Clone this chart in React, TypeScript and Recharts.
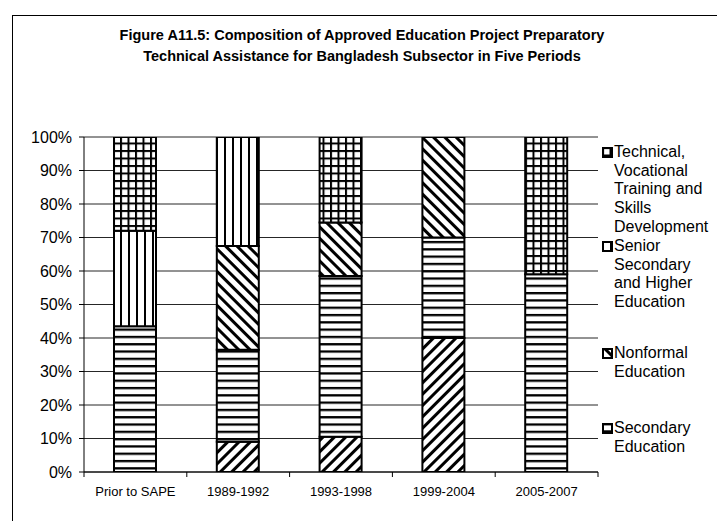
import { Bar, BarChart, CartesianGrid, XAxis, YAxis } from "recharts";

const periods = ["Prior to SAPE", "1989-1992", "1993-1998", "1999-2004", "2005-2007"];
const primary = [0, 9, 10.5, 40, 0];
const secondary = [43.5, 27.5, 48, 30, 59];
const nonformal = [0, 31, 16, 30, 0];
const seniorSecondary = [28.5, 32.5, 0, 0, 0];
const technical = [28, 0, 25.5, 0, 41];
const yTicks = [0, 10, 20, 30, 40, 50, 60, 70, 80, 90, 100];

const titleLines = [
  "Figure A11.5: Composition of Approved Education Project Preparatory",
  "Technical Assistance for Bangladesh Subsector in Five Periods",
];

// bottom-up stacking order
const series = [
  { key: "primary", name: "Primary Education", pattern: "pat-fwd" },
  { key: "secondary", name: "Secondary Education", pattern: "pat-horiz" },
  { key: "nonformal", name: "Nonformal Education", pattern: "pat-back" },
  { key: "seniorSecondary", name: "Senior Secondary and Higher Education", pattern: "pat-vert" },
  { key: "technical", name: "Technical, Vocational Training and Skills Development", pattern: "pat-grid" },
];

// legend as printed (the primary entry is cut off in the original)
const legendItems = [
  { lines: ["Technical,", "Vocational", "Training and", "Skills", "Development"], pattern: "pat-grid" },
  { lines: ["Senior", "Secondary", "and Higher", "Education"], pattern: "pat-vert" },
  { lines: ["Nonformal", "Education"], pattern: "pat-back" },
  { lines: ["Secondary", "Education"], pattern: "pat-horiz" },
];
const legendTops = [143, 237, 344, 419];

const data = periods.map((p, i) => ({
  period: p,
  primary: primary[i],
  secondary: secondary[i],
  nonformal: nonformal[i],
  seniorSecondary: seniorSecondary[i],
  technical: technical[i],
}));

const W = 717;
const H = 521;
const margin = { top: 137, right: 119, bottom: 19, left: 0 };
const Y_AXIS_W = 84;
const plotW = W - margin.left - margin.right - Y_AXIS_W;
const font = "'Liberation Sans', Arial, sans-serif";

function PeriodTick(props: any) {
  const { x, y, payload, index } = props;
  const half = plotW / periods.length / 2;
  return (
    <g>
      {index === 0 && <line x1={x - half} x2={x - half} y1={y} y2={y + 5} stroke="#000" />}
      <line x1={x + half} x2={x + half} y1={y} y2={y + 5} stroke="#000" />
      <text x={x} y={y + 24} textAnchor="middle" fontSize={13} fill="#000" fontFamily={font}>
        {payload.value}
      </text>
    </g>
  );
}

function Patterns() {
  return (
    <defs>
      <pattern id="pat-horiz" width="8" height="7.3" patternUnits="userSpaceOnUse">
        <rect width="8" height="7.3" fill="#fff" />
        <rect y="0" width="8" height="2.3" fill="#000" />
      </pattern>
      <pattern id="pat-vert" width="8" height="8" patternUnits="userSpaceOnUse">
        <rect width="8" height="8" fill="#fff" />
        <rect x="0" width="2" height="8" fill="#000" />
      </pattern>
      <pattern id="pat-grid" width="7.5" height="7.5" patternUnits="userSpaceOnUse">
        <rect width="7.5" height="7.5" fill="#fff" />
        <rect x="0" width="2" height="7.5" fill="#000" />
        <rect y="0" width="7.5" height="2" fill="#000" />
      </pattern>
      <pattern id="pat-fwd" width="8" height="8" patternUnits="userSpaceOnUse" patternTransform="rotate(45)">
        <rect width="8" height="8" fill="#fff" />
        <rect x="0" width="3" height="8" fill="#000" />
      </pattern>
      <pattern id="pat-back" width="8" height="8" patternUnits="userSpaceOnUse" patternTransform="rotate(-45)">
        <rect width="8" height="8" fill="#fff" />
        <rect x="0" width="3" height="8" fill="#000" />
      </pattern>
    </defs>
  );
}

export default function App() {
  return (
    <div
      style={{
        position: "absolute",
        left: 0,
        top: 0,
        width: W,
        height: H,
        overflow: "hidden",
        background: "#fff",
        fontFamily: font,
      }}
    >
      <div
        style={{
          position: "absolute",
          left: 12,
          top: 15,
          width: W,
          height: H,
          borderLeft: "1px solid #000",
          borderTop: "1px solid #000",
        }}
      />
      <div
        style={{
          position: "absolute",
          left: 0,
          width: 724,
          top: 25,
          textAlign: "center",
          fontWeight: "bold",
          fontSize: 14.5,
          lineHeight: "21px",
          color: "#000",
        }}
      >
        {titleLines.map((t) => (
          <div key={t}>{t}</div>
        ))}
      </div>

      <div style={{ position: "absolute", left: 0, top: 0 }}>
        <BarChart width={W} height={H} data={data} margin={margin}>
          <Patterns />
          <CartesianGrid vertical={false} stroke="#000" strokeOpacity={0.85} />
          <XAxis
            dataKey="period"
            height={30}
            tickLine={false}
            tickSize={0}
            tickMargin={0}
            axisLine={{ stroke: "#000" }}
            tick={<PeriodTick />}
            interval={0}
          />
          <YAxis
            width={Y_AXIS_W}
            domain={[0, 100]}
            ticks={yTicks}
            tickFormatter={(v) => `${v}%`}
            tickSize={5}
            tickMargin={7}
            axisLine={{ stroke: "#000" }}
            tickLine={{ stroke: "#000" }}
            tick={{ fill: "#000", fontSize: 16, fontFamily: font }}
            allowDataOverflow
          />
          {series.map((s) => (
            <Bar
              key={s.key}
              dataKey={s.key}
              name={s.name}
              stackId="a"
              barSize={42}
              fill={`url(#${s.pattern})`}
              stroke="#000"
              strokeWidth={2}
              isAnimationActive={false}
            />
          ))}
        </BarChart>
      </div>

      {legendItems.map((item, i) => (
        <div
          key={item.lines.join(" ")}
          style={{ position: "absolute", left: 602, top: legendTops[i], fontSize: 16, lineHeight: "18.7px", color: "#000" }}
        >
          <svg width={11} height={11} style={{ position: "absolute", left: 0, top: 4 }}>
            <rect x={1} y={1} width={9} height={9} fill={`url(#${item.pattern})`} stroke="#000" strokeWidth={2} />
          </svg>
          <div style={{ marginLeft: 12 }}>
            {item.lines.map((l) => (
              <div key={l} style={{ whiteSpace: "nowrap" }}>
                {l}
              </div>
            ))}
          </div>
        </div>
      ))}
    </div>
  );
}
